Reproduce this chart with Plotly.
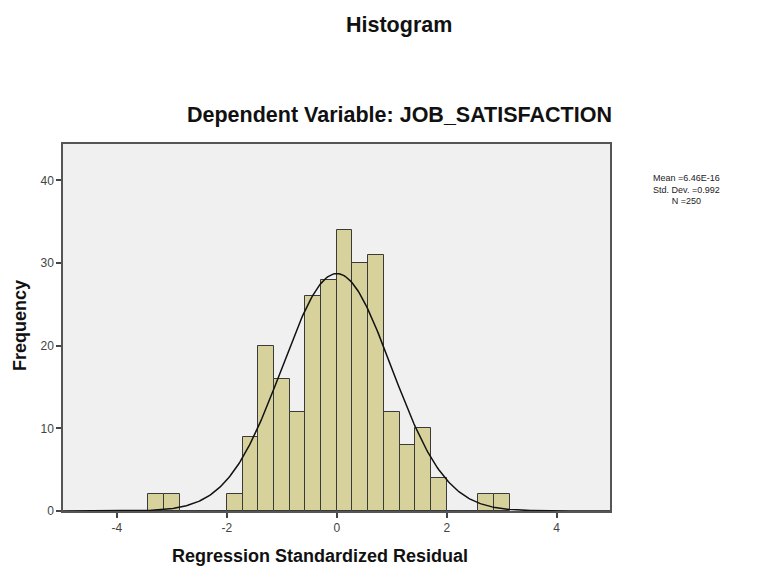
import numpy as np
import plotly.graph_objects as go

# ---- data ----
bin_start = -3.4286          # left edge of first bin
bin_width = 2 / 7            # SPSS bin width
counts = [2, 2, 0, 0, 0, 2, 9, 20, 16, 12, 26, 28, 34, 30, 31, 12, 8, 10, 4, 0, 0, 2, 2]
mean_val = 6.46e-16
sd_val = 0.992
n_val = 250
x_ticks = [-4, -2, 0, 2, 4]
x_tick_text = ["-4", "-2", "0", "2", "4"]
y_ticks = [0, 10, 20, 30, 40]
stats_lines = ["Mean =6.46E-16", "Std. Dev. =0.992", "N =250"]

centers = [bin_start + bin_width * (i + 0.5) for i in range(len(counts))]

# fitted normal curve (scaled to frequency)
xs = np.linspace(-4.98, 4.97, 400)
ys = n_val * bin_width / (sd_val * np.sqrt(2 * np.pi)) * np.exp(-0.5 * ((xs - mean_val) / sd_val) ** 2)

fig = go.Figure()
fig.add_trace(go.Bar(
    x=centers, y=counts, width=bin_width,
    marker=dict(color="#d7d29c", line=dict(color="#3a3a3a", width=1)),
    hoverinfo="x+y", showlegend=False,
))
fig.add_trace(go.Scatter(
    x=xs, y=ys, mode="lines", line=dict(color="#111111", width=1.5),
    showlegend=False, hoverinfo="skip",
))

font_family = "Liberation Sans, Arial, sans-serif"

# page offset of the plot div (body margin)
OFF = 8
W, H = 763, 568
PL, PR, PT, PB = 63 - OFF, 610 - OFF, 144 - OFF, 511 - OFF   # plot area in figure px
pw, ph = PR - PL, PB - PT


def px(xp):
    return (xp - OFF - PL) / pw


def py(yp):
    return (PB - (yp - OFF)) / ph


def ann(text, xp, yp, size, **kw):
    return dict(text=text, xref="paper", yref="paper", x=px(xp), y=py(yp),
                xanchor="center", yanchor="middle", showarrow=False,
                font=dict(size=size, color=kw.pop("color", "#111111")), **kw)


fig.update_layout(
    width=W, height=H,
    margin=dict(l=PL, r=W - PR, t=PT, b=H - PB),
    paper_bgcolor="white",
    plot_bgcolor="#f0f0f0",
    bargap=0,
    font=dict(family=font_family, color="#333333"),
    xaxis=dict(
        range=[-4.98, 4.97], tickvals=x_ticks, ticktext=x_tick_text,
        ticks="outside", ticklen=5, tickwidth=1.5, tickcolor="#444444",
        showgrid=False, zeroline=False,
        showline=True, linecolor="#555555", linewidth=1.5, mirror=True,
        tickfont=dict(size=12, color="#444444"),
    ),
    yaxis=dict(
        range=[0, 44.4], tickvals=y_ticks,
        ticks="outside", ticklen=5, tickwidth=1.5, tickcolor="#444444",
        showgrid=False, zeroline=False,
        showline=True, linecolor="#555555", linewidth=1.5, mirror=True,
        tickfont=dict(size=12, color="#444444"),
    ),
    annotations=[
        ann("<b>Histogram</b>", 399, 25, 21.5),
        ann("<b>Dependent Variable: JOB_SATISFACTION</b>", 399, 115, 21.5),
        ann("<b>Regression Standardized Residual</b>", 320, 556, 18),
        ann("<b>Frequency</b>", 20, 326, 18, textangle=-90),
        ann("<br>".join(stats_lines), 686, 189, 9, align="center", color="#222222"),
    ],
)

fig.write_html("out.html")
